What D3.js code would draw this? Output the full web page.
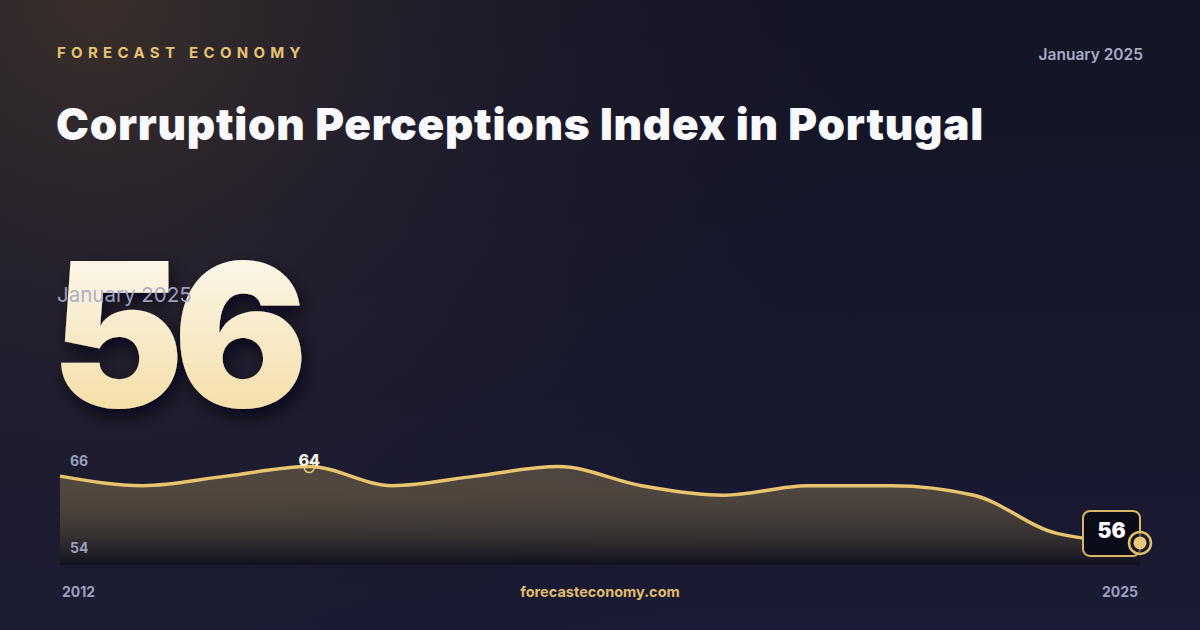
<!DOCTYPE html>
<html><head><meta charset="utf-8">
<script src="https://cdn.jsdelivr.net/npm/d3@7/dist/d3.min.js"></script>
<style>
html,body{margin:0;padding:0;background:#15162b;}
svg{display:block;}
</style></head>
<body>
<svg id="c" width="1200" height="630"></svg>
<script>
const years = [2012,2013,2014,2015,2016,2017,2018,2019,2020,2021,2022,2023,2024,2025];
const values = [63,62,63,64,62,63,64,62,61,62,62,61,57,56];
const yTicks = [54,66];
const xLabels = ["2012","2025"];
const brand = "FORECAST ECONOMY";
const dateLabel = "January 2025";
const title = "Corruption Perceptions Index in Portugal";
const site = "forecasteconomy.com";

const W=1200,H=630;
const svg=d3.select("#c");
const defs=svg.append("defs");

const bg=defs.append("linearGradient").attr("id","bg").attr("x1",0).attr("y1",0).attr("x2",0).attr("y2",1);
bg.append("stop").attr("offset","0%").attr("stop-color","#131424");
bg.append("stop").attr("offset","100%").attr("stop-color","#1a1b34");
const glow=defs.append("radialGradient").attr("id","glow").attr("cx",0.08).attr("cy",0).attr("r",0.7)
  .attr("gradientTransform","scale(1,1.9)");
glow.append("stop").attr("offset","0%").attr("stop-color","#3a2f2a").attr("stop-opacity",1);
glow.append("stop").attr("offset","45%").attr("stop-color","#2a2430").attr("stop-opacity",0.5);
glow.append("stop").attr("offset","100%").attr("stop-color","#15162b").attr("stop-opacity",0);
svg.append("rect").attr("width",W).attr("height",H).attr("fill","url(#bg)");
svg.append("rect").attr("width",W).attr("height",H).attr("fill","url(#glow)");

const numGrad=defs.append("linearGradient").attr("id","numg").attr("x1",0).attr("y1",0).attr("x2",0).attr("y2",1);
numGrad.append("stop").attr("offset","0%").attr("stop-color","#fdfdfb");
numGrad.append("stop").attr("offset","100%").attr("stop-color","#f3d897");
const sh=defs.append("filter").attr("id","sh").attr("x","-20%").attr("y","-20%").attr("width","150%").attr("height","150%");
sh.append("feDropShadow").attr("dx",4).attr("dy",8).attr("stdDeviation",8).attr("flood-color","#05050c").attr("flood-opacity",0.7);

const areaGrad=defs.append("linearGradient").attr("id","ag").attr("x1",0).attr("y1",0).attr("x2",0).attr("y2",1);
areaGrad.append("stop").attr("offset","0%").attr("stop-color","#e8c46e").attr("stop-opacity",0.25);
areaGrad.append("stop").attr("offset","100%").attr("stop-color","#0c0c16").attr("stop-opacity",0.65);

const font="Inter, 'Noto Sans', sans-serif";

svg.append("text").attr("x",57).attr("y",58).text(brand)
  .attr("font-family",font).attr("font-weight",700).attr("font-size",15)
  .attr("letter-spacing","5.3px").attr("fill","#e6c372");
svg.append("text").attr("x",1143).attr("y",60).attr("text-anchor","end").text(dateLabel)
  .attr("font-family",font).attr("font-weight",600).attr("font-size",15.5).attr("fill","#a9abc7");
svg.append("text").attr("x",56).attr("y",140).text(title)
  .attr("font-family",font).attr("font-weight",900).attr("font-size",44).attr("fill","#f8f9fc")
  .attr("letter-spacing","0.75px");

const last=values[values.length-1];
svg.append("text").attr("x",51).attr("y",407).text(String(last))
  .attr("font-family",font).attr("font-weight",900).attr("font-size",200)
  .attr("letter-spacing","-11px")
  .attr("fill","url(#numg)").attr("filter","url(#sh)");
svg.append("text").attr("x",57).attr("y",302).text(dateLabel)
  .attr("font-family",font).attr("font-weight",400).attr("font-size",20.5).attr("fill","#a6a9c8").attr("fill-opacity",0.95);

// chart
const x=d3.scaleLinear().domain([years[0],years[years.length-1]]).range([60,1140]);
const y=d3.scaleLinear().domain([yTicks[0],yTicks[1]]).range([562,447.5]);
const base=565;
const pts=years.map((yr,i)=>({yr,v:values[i]}));
const area=d3.area().x(d=>x(d.yr)).y0(base).y1(d=>y(d.v)).curve(d3.curveMonotoneX);
const line=d3.line().x(d=>x(d.yr)).y(d=>y(d.v)).curve(d3.curveMonotoneX);
svg.append("path").datum(pts).attr("d",area).attr("fill","url(#ag)");
svg.append("path").datum(pts).attr("d",line).attr("fill","none").attr("stroke","#e8c46e").attr("stroke-width",3.5).attr("stroke-linejoin","round");

svg.append("text").attr("x",70).attr("y",466).text(yTicks[1])
  .attr("font-family",font).attr("font-weight",700).attr("font-size",14).attr("fill","#9c9fbf");
svg.append("text").attr("x",70).attr("y",553).text(yTicks[0])
  .attr("font-family",font).attr("font-weight",700).attr("font-size",14).attr("fill","#9c9fbf");

// peak marker
const maxV=d3.max(values);
const pk=pts[values.indexOf(maxV)];
svg.append("circle").attr("cx",x(pk.yr)).attr("cy",y(pk.v)+1).attr("r",5).attr("fill","none").attr("stroke","#e8c46e").attr("stroke-width",1.5);
svg.append("text").attr("x",x(pk.yr)).attr("y",y(pk.v)-0.5).attr("text-anchor","middle").text(maxV)
  .attr("font-family",font).attr("font-weight",800).attr("font-size",16).attr("fill","#f4f1e8");

// end marker
const lp=pts[pts.length-1];
const ex=x(lp.yr), ey=y(lp.v);
svg.append("rect").attr("x",ex-57).attr("y",ey-32).attr("width",57).attr("height",45).attr("rx",7)
  .attr("fill","#0b0c1a").attr("stroke","#d9b664").attr("stroke-width",2);
svg.append("text").attr("x",ex-28.5).attr("y",ey-4.5).attr("text-anchor","middle").text(lp.v)
  .attr("font-family",font).attr("font-weight",900).attr("font-size",21).attr("fill","#ffffff");
svg.append("circle").attr("cx",ex).attr("cy",ey).attr("r",11).attr("fill","#1a1a2c").attr("fill-opacity",0.6).attr("stroke","#e0bd68").attr("stroke-width",2.5);
svg.append("circle").attr("cx",ex).attr("cy",ey).attr("r",6.5).attr("fill","#e8c878");

// bottom labels
svg.append("text").attr("x",62).attr("y",597).text(xLabels[0])
  .attr("font-family",font).attr("font-weight",700).attr("font-size",14).attr("fill","#9c9fbf");
svg.append("text").attr("x",1138).attr("y",597).attr("text-anchor","end").text(xLabels[1])
  .attr("font-family",font).attr("font-weight",700).attr("font-size",14).attr("fill","#9c9fbf");
svg.append("text").attr("x",600).attr("y",597).attr("text-anchor","middle").text(site)
  .attr("font-family",font).attr("font-weight",700).attr("font-size",14.5).attr("fill","#e0bd6c");
</script>
</body></html>
